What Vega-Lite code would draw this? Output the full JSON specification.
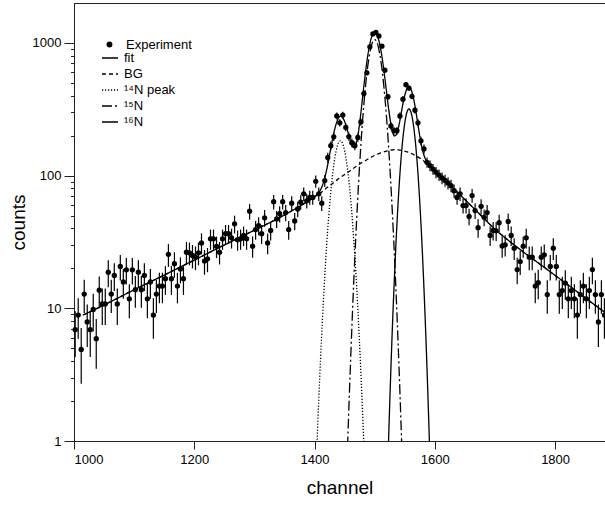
{
  "$schema": "https://vega.github.io/schema/vega-lite/v6.json",
  "width": 531,
  "height": 438,
  "autosize": {"type": "none"},
  "padding": {"left": 74, "top": 3, "right": 0, "bottom": 64},
  "background": "white",
  "config": {
    "font": "Liberation Sans",
    "view": {"stroke": "#222", "strokeWidth": 1},
    "axis": {"domainColor": "#222", "tickColor": "#222", "labelColor": "#000", "titleColor": "#000", "grid": false, "labelFont": "Liberation Sans", "titleFont": "Liberation Sans", "titleFontWeight": "normal"},
    "legend": {"labelFont": "Liberation Sans", "labelColor": "#000", "labelFontSize": 13, "padding": 0}
  },
  "datasets": {
    "pts": [
      {"ch":1002,"c":6.9,"e":2.6},{"ch":1007,"c":8.9,"e":3.0},{"ch":1012,"c":4.9,"e":2.2},{"ch":1017,"c":12.8,"e":3.6},{"ch":1022,"c":7.9,"e":2.8},
      {"ch":1027,"c":6.9,"e":2.6},{"ch":1032,"c":9.8,"e":3.1},{"ch":1037,"c":5.9,"e":2.4},{"ch":1042,"c":13.7,"e":3.7},{"ch":1047,"c":10.8,"e":3.3},
      {"ch":1052,"c":10.8,"e":3.3},{"ch":1057,"c":18.7,"e":4.3},{"ch":1062,"c":12.8,"e":3.6},{"ch":1067,"c":17.7,"e":4.2},{"ch":1072,"c":10.8,"e":3.3},
      {"ch":1077,"c":20.7,"e":4.5},{"ch":1082,"c":15.8,"e":4.0},{"ch":1087,"c":19.5,"e":4.4},{"ch":1092,"c":11.8,"e":3.4},{"ch":1097,"c":19.5,"e":4.4},
      {"ch":1102,"c":13.8,"e":3.7},{"ch":1107,"c":18.7,"e":4.3},{"ch":1112,"c":13.8,"e":3.7},{"ch":1117,"c":17.7,"e":4.2},{"ch":1122,"c":11.8,"e":3.4},
      {"ch":1127,"c":15.8,"e":4.0},{"ch":1132,"c":8.9,"e":3.0},{"ch":1137,"c":12.8,"e":3.6},{"ch":1142,"c":14.7,"e":3.8},{"ch":1147,"c":14.7,"e":3.8},
      {"ch":1152,"c":16.7,"e":4.1},{"ch":1157,"c":25.5,"e":5.0},{"ch":1162,"c":16.7,"e":4.1},{"ch":1167,"c":21.7,"e":4.7},{"ch":1172,"c":14.7,"e":3.8},
      {"ch":1177,"c":19.8,"e":4.4},{"ch":1182,"c":16.7,"e":4.1},{"ch":1187,"c":26.5,"e":5.1},{"ch":1192,"c":26.2,"e":5.1},{"ch":1197,"c":25.0,"e":5.0},
      {"ch":1202,"c":24.3,"e":4.9},{"ch":1207,"c":26.2,"e":5.1},{"ch":1212,"c":31.1,"e":5.6},{"ch":1217,"c":22.7,"e":4.8},{"ch":1222,"c":23.6,"e":4.9},
      {"ch":1227,"c":33.4,"e":5.8},{"ch":1232,"c":33.4,"e":5.8},{"ch":1237,"c":29.3,"e":5.4},{"ch":1242,"c":26.5,"e":5.1},{"ch":1247,"c":33.4,"e":5.8},
      {"ch":1252,"c":36.5,"e":6.0},{"ch":1257,"c":36.5,"e":6.0},{"ch":1262,"c":34.0,"e":5.8},{"ch":1267,"c":43.3,"e":6.6},{"ch":1272,"c":32.9,"e":5.7},
      {"ch":1277,"c":33.4,"e":5.8},{"ch":1282,"c":35.4,"e":5.9},{"ch":1287,"c":33.4,"e":5.8},{"ch":1292,"c":53.9,"e":7.3},{"ch":1297,"c":29.4,"e":5.4},
      {"ch":1302,"c":39.2,"e":6.3},{"ch":1307,"c":42.0,"e":6.5},{"ch":1312,"c":36.5,"e":6.0},{"ch":1317,"c":48.1,"e":6.9},{"ch":1322,"c":31.1,"e":5.6},
      {"ch":1327,"c":38.6,"e":6.2},{"ch":1332,"c":63.6,"e":8.0},{"ch":1337,"c":47.2,"e":6.9},{"ch":1342,"c":51.6,"e":7.2},{"ch":1347,"c":63.6,"e":8.0},
      {"ch":1352,"c":52.7,"e":7.3},{"ch":1357,"c":39.2,"e":6.3},{"ch":1362,"c":62,"e":7.9},{"ch":1367,"c":45.5,"e":6.7},{"ch":1372,"c":56.1,"e":7.5},
      {"ch":1377,"c":63.1,"e":7.9},{"ch":1382,"c":72.9,"e":8.5},{"ch":1387,"c":64.6,"e":8.0},{"ch":1392,"c":68.5,"e":8.3},{"ch":1397,"c":68.5,"e":8.3},
      {"ch":1402,"c":90.6,"e":9.5},{"ch":1407,"c":72.9,"e":8.5},{"ch":1412,"c":62,"e":7.9},{"ch":1417,"c":91.7,"e":9.6},{"ch":1422,"c":137,"e":11.7},
      {"ch":1427,"c":168,"e":13},{"ch":1432,"c":196,"e":14},{"ch":1437,"c":282,"e":16.8},{"ch":1442,"c":250,"e":15.8},{"ch":1447,"c":286,"e":16.9},
      {"ch":1452,"c":231,"e":15.2},{"ch":1457,"c":197,"e":14},{"ch":1462,"c":177,"e":13.3},{"ch":1467,"c":168,"e":13},{"ch":1472,"c":194,"e":13.9},
      {"ch":1477,"c":254,"e":15.9},{"ch":1482,"c":415,"e":20.4},{"ch":1487,"c":595,"e":24.4},{"ch":1492,"c":935,"e":30.6},{"ch":1497,"c":1170,"e":34.2},
      {"ch":1502,"c":1200,"e":34.6},{"ch":1507,"c":1130,"e":33.6},{"ch":1512,"c":945,"e":30.7},{"ch":1517,"c":623,"e":25},{"ch":1522,"c":393,"e":19.8},
      {"ch":1527,"c":237,"e":15.4},{"ch":1532,"c":218,"e":14.8},{"ch":1537,"c":218,"e":14.8},{"ch":1542,"c":282,"e":16.8},{"ch":1547,"c":377,"e":19.4},
      {"ch":1552,"c":485,"e":22},{"ch":1557,"c":457,"e":21.4},{"ch":1562,"c":396,"e":19.9},{"ch":1567,"c":311,"e":17.6},{"ch":1572,"c":250,"e":15.8},
      {"ch":1577,"c":183,"e":13.5},{"ch":1582,"c":159,"e":12.6},{"ch":1587,"c":126,"e":11.2},{"ch":1592,"c":119,"e":10.9},{"ch":1597,"c":112,"e":10.6},
      {"ch":1602,"c":106,"e":10.3},{"ch":1607,"c":101,"e":10},{"ch":1612,"c":96,"e":9.8},{"ch":1617,"c":92,"e":9.6},{"ch":1622,"c":88,"e":9.4},
      {"ch":1627,"c":84,"e":9.2},{"ch":1632,"c":77,"e":8.8},{"ch":1637,"c":68.5,"e":8.3},{"ch":1642,"c":72.9,"e":8.5},{"ch":1647,"c":59.5,"e":7.7},
      {"ch":1652,"c":59.5,"e":7.7},{"ch":1657,"c":49.2,"e":7.0},{"ch":1662,"c":70.8,"e":8.4},{"ch":1667,"c":54.5,"e":7.4},{"ch":1672,"c":40.5,"e":6.4},
      {"ch":1677,"c":58.7,"e":7.7},{"ch":1682,"c":48.5,"e":7.0},{"ch":1687,"c":52.7,"e":7.3},{"ch":1692,"c":35.4,"e":5.9},{"ch":1697,"c":38.6,"e":6.2},
      {"ch":1702,"c":38.4,"e":6.2},{"ch":1707,"c":44.2,"e":6.6},{"ch":1712,"c":29.5,"e":5.4},{"ch":1717,"c":30.1,"e":5.5},{"ch":1722,"c":45.2,"e":6.7},
      {"ch":1727,"c":35.4,"e":5.9},{"ch":1732,"c":28.4,"e":5.3},{"ch":1737,"c":19.6,"e":4.4},{"ch":1742,"c":22.5,"e":4.7},{"ch":1747,"c":29.4,"e":5.4},
      {"ch":1752,"c":34.0,"e":5.8},{"ch":1757,"c":24.3,"e":4.9},{"ch":1762,"c":24.3,"e":4.9},{"ch":1767,"c":14.7,"e":3.8},{"ch":1772,"c":15.6,"e":3.9},
      {"ch":1777,"c":24.3,"e":4.9},{"ch":1782,"c":25.3,"e":5.0},{"ch":1787,"c":12.7,"e":3.6},{"ch":1792,"c":20.7,"e":4.5},{"ch":1797,"c":28.4,"e":5.3},
      {"ch":1802,"c":20.7,"e":4.5},{"ch":1807,"c":12.7,"e":3.6},{"ch":1812,"c":13.6,"e":3.7},{"ch":1817,"c":15.5,"e":3.9},{"ch":1822,"c":11.8,"e":3.4},
      {"ch":1827,"c":13.6,"e":3.7},{"ch":1832,"c":11.8,"e":3.4},{"ch":1837,"c":8.9,"e":3.0},{"ch":1842,"c":12.7,"e":3.6},{"ch":1847,"c":14.7,"e":3.8},
      {"ch":1852,"c":11.8,"e":3.4},{"ch":1857,"c":13.6,"e":3.7},{"ch":1862,"c":19.6,"e":4.4},{"ch":1867,"c":12.7,"e":3.6},{"ch":1872,"c":7.9,"e":2.8},
      {"ch":1877,"c":12.7,"e":3.6},{"ch":1882,"c":8.9,"e":3.0}
    ],
    "cur": [
      {"s":"fit","ch":1015,"c":8.9},{"s":"fit","ch":1050,"c":10.6},{"s":"fit","ch":1100,"c":13.8},{"s":"fit","ch":1150,"c":17.8},{"s":"fit","ch":1200,"c":23.1},
      {"s":"fit","ch":1250,"c":30.0},{"s":"fit","ch":1300,"c":38.8},{"s":"fit","ch":1340,"c":47.8},{"s":"fit","ch":1366,"c":55.6},{"s":"fit","ch":1385,"c":62.5},
      {"s":"fit","ch":1401,"c":69.9},{"s":"fit","ch":1404,"c":71.9},{"s":"fit","ch":1407,"c":74.5},{"s":"fit","ch":1410,"c":78.2},{"s":"fit","ch":1413,"c":84.0},
      {"s":"fit","ch":1416,"c":92.6},{"s":"fit","ch":1419,"c":104.8},{"s":"fit","ch":1422,"c":121.6},{"s":"fit","ch":1425,"c":143.4},{"s":"fit","ch":1428,"c":169.8},
      {"s":"fit","ch":1431,"c":199},{"s":"fit","ch":1434,"c":228.1},{"s":"fit","ch":1437,"c":254},{"s":"fit","ch":1440,"c":272.4},{"s":"fit","ch":1443,"c":280},
      {"s":"fit","ch":1446,"c":276.4},{"s":"fit","ch":1449,"c":262.5},{"s":"fit","ch":1452,"c":241.5},{"s":"fit","ch":1455,"c":217.4},{"s":"fit","ch":1458,"c":194.1},
      {"s":"fit","ch":1461,"c":175.3},{"s":"fit","ch":1464,"c":164.4},{"s":"fit","ch":1467,"c":164.5},{"s":"fit","ch":1470,"c":179.2},{"s":"fit","ch":1473,"c":212.9},
      {"s":"fit","ch":1476,"c":270.6},{"s":"fit","ch":1479,"c":356.8},{"s":"fit","ch":1482,"c":473.1},{"s":"fit","ch":1485,"c":615.7},{"s":"fit","ch":1488,"c":775.6},
      {"s":"fit","ch":1491,"c":935.1},{"s":"fit","ch":1494,"c":1073},{"s":"fit","ch":1497,"c":1167.4},{"s":"fit","ch":1500,"c":1202},{"s":"fit","ch":1503,"c":1171.4},
      {"s":"fit","ch":1506,"c":1081.5},{"s":"fit","ch":1509,"c":948.1},{"s":"fit","ch":1512,"c":792.4},{"s":"fit","ch":1515,"c":636.3},{"s":"fit","ch":1518,"c":496.7},
      {"s":"fit","ch":1521,"c":383.3},{"s":"fit","ch":1524,"c":299.3},{"s":"fit","ch":1527,"c":243.4},{"s":"fit","ch":1530,"c":211.4},{"s":"fit","ch":1533,"c":199},
      {"s":"fit","ch":1536,"c":203.9},{"s":"fit","ch":1539,"c":224.8},{"s":"fit","ch":1542,"c":261.6},{"s":"fit","ch":1545,"c":310.7},{"s":"fit","ch":1548,"c":366.5},
      {"s":"fit","ch":1551,"c":418.1},{"s":"fit","ch":1554,"c":455},{"s":"fit","ch":1557,"c":467.5},{"s":"fit","ch":1560,"c":451.5},{"s":"fit","ch":1563,"c":411.1},
      {"s":"fit","ch":1566,"c":355.1},{"s":"fit","ch":1569,"c":295.3},{"s":"fit","ch":1572,"c":241.3},{"s":"fit","ch":1575,"c":198.4},{"s":"fit","ch":1578,"c":167.6},
      {"s":"fit","ch":1581,"c":147.3},{"s":"fit","ch":1584,"c":134.8},{"s":"fit","ch":1587,"c":126.5},{"s":"fit","ch":1590,"c":120.9},{"s":"fit","ch":1593,"c":116.5},
      {"s":"fit","ch":1600,"c":108},{"s":"fit","ch":1615,"c":93.5},{"s":"fit","ch":1629,"c":81.6},{"s":"fit","ch":1650,"c":66},{"s":"fit","ch":1675,"c":51},
      {"s":"fit","ch":1700,"c":39.5},{"s":"fit","ch":1725,"c":31.8},{"s":"fit","ch":1750,"c":26},{"s":"fit","ch":1775,"c":21.5},{"s":"fit","ch":1800,"c":17.7},
      {"s":"fit","ch":1825,"c":14.6},{"s":"fit","ch":1850,"c":12},{"s":"fit","ch":1883,"c":9.3},

      {"s":"BG","ch":1015,"c":8.9},{"s":"BG","ch":1050,"c":10.6},{"s":"BG","ch":1100,"c":13.8},{"s":"BG","ch":1150,"c":17.8},{"s":"BG","ch":1200,"c":23.1},
      {"s":"BG","ch":1250,"c":30.0},{"s":"BG","ch":1300,"c":38.8},{"s":"BG","ch":1340,"c":47.8},{"s":"BG","ch":1366,"c":55.6},{"s":"BG","ch":1385,"c":62.5},
      {"s":"BG","ch":1401,"c":69.5},{"s":"BG","ch":1407,"c":72.5},{"s":"BG","ch":1413,"c":76},{"s":"BG","ch":1419,"c":80},{"s":"BG","ch":1425,"c":84},
      {"s":"BG","ch":1431,"c":88},{"s":"BG","ch":1437,"c":92.5},{"s":"BG","ch":1443,"c":97},{"s":"BG","ch":1449,"c":101},{"s":"BG","ch":1455,"c":105.5},
      {"s":"BG","ch":1461,"c":110.5},{"s":"BG","ch":1467,"c":115.5},{"s":"BG","ch":1473,"c":120.5},{"s":"BG","ch":1479,"c":125.5},{"s":"BG","ch":1485,"c":130},
      {"s":"BG","ch":1491,"c":135},{"s":"BG","ch":1497,"c":140},{"s":"BG","ch":1503,"c":144},{"s":"BG","ch":1509,"c":148},{"s":"BG","ch":1515,"c":151},
      {"s":"BG","ch":1521,"c":153.5},{"s":"BG","ch":1527,"c":155.5},{"s":"BG","ch":1533,"c":157},{"s":"BG","ch":1539,"c":156.5},{"s":"BG","ch":1545,"c":155},
      {"s":"BG","ch":1551,"c":152.5},{"s":"BG","ch":1557,"c":149.5},{"s":"BG","ch":1563,"c":145.5},{"s":"BG","ch":1569,"c":140.5},{"s":"BG","ch":1575,"c":135.5},
      {"s":"BG","ch":1581,"c":129.5},{"s":"BG","ch":1587,"c":123},{"s":"BG","ch":1593,"c":116},{"s":"BG","ch":1600,"c":108},{"s":"BG","ch":1615,"c":93.5},
      {"s":"BG","ch":1629,"c":81.6},{"s":"BG","ch":1650,"c":66},{"s":"BG","ch":1675,"c":51},{"s":"BG","ch":1700,"c":39.5},{"s":"BG","ch":1725,"c":31.8},
      {"s":"BG","ch":1750,"c":26},{"s":"BG","ch":1775,"c":21.5},{"s":"BG","ch":1800,"c":17.7},{"s":"BG","ch":1825,"c":14.6},{"s":"BG","ch":1850,"c":12},{"s":"BG","ch":1883,"c":9.3},

      {"s":"¹⁴N peak","ch":1401,"c":0.40},{"s":"¹⁴N peak","ch":1404,"c":0.93},{"s":"¹⁴N peak","ch":1407,"c":2.03},{"s":"¹⁴N peak","ch":1410,"c":4.17},
      {"s":"¹⁴N peak","ch":1413,"c":8.04},{"s":"¹⁴N peak","ch":1416,"c":14.6},{"s":"¹⁴N peak","ch":1419,"c":24.8},{"s":"¹⁴N peak","ch":1422,"c":39.6},
      {"s":"¹⁴N peak","ch":1425,"c":59.4},{"s":"¹⁴N peak","ch":1428,"c":83.8},{"s":"¹⁴N peak","ch":1431,"c":111.0},{"s":"¹⁴N peak","ch":1434,"c":138.1},
      {"s":"¹⁴N peak","ch":1437,"c":161.5},{"s":"¹⁴N peak","ch":1440,"c":177.4},{"s":"¹⁴N peak","ch":1443,"c":183},{"s":"¹⁴N peak","ch":1446,"c":177.4},
      {"s":"¹⁴N peak","ch":1449,"c":161.5},{"s":"¹⁴N peak","ch":1452,"c":138.1},{"s":"¹⁴N peak","ch":1455,"c":111.0},{"s":"¹⁴N peak","ch":1458,"c":83.8},
      {"s":"¹⁴N peak","ch":1461,"c":59.4},{"s":"¹⁴N peak","ch":1464,"c":39.6},{"s":"¹⁴N peak","ch":1467,"c":24.8},{"s":"¹⁴N peak","ch":1470,"c":14.6},
      {"s":"¹⁴N peak","ch":1473,"c":8.04},{"s":"¹⁴N peak","ch":1476,"c":4.17},{"s":"¹⁴N peak","ch":1479,"c":2.03},{"s":"¹⁴N peak","ch":1482,"c":0.93},
      {"s":"¹⁴N peak","ch":1485,"c":0.40},

      {"s":"¹⁵N","ch":1452,"c":0.355},{"s":"¹⁵N","ch":1455,"c":0.94},{"s":"¹⁵N","ch":1458,"c":2.32},{"s":"¹⁵N","ch":1461,"c":5.39},{"s":"¹⁵N","ch":1464,"c":11.8},
      {"s":"¹⁵N","ch":1467,"c":24.2},{"s":"¹⁵N","ch":1470,"c":46.6},{"s":"¹⁵N","ch":1473,"c":84.4},{"s":"¹⁵N","ch":1476,"c":143.4},{"s":"¹⁵N","ch":1479,"c":229.3},
      {"s":"¹⁵N","ch":1482,"c":344.2},{"s":"¹⁵N","ch":1485,"c":485.3},{"s":"¹⁵N","ch":1488,"c":642.9},{"s":"¹⁵N","ch":1491,"c":800.1},{"s":"¹⁵N","ch":1494,"c":935.5},
      {"s":"¹⁵N","ch":1497,"c":1027.4},{"s":"¹⁵N","ch":1500,"c":1060},{"s":"¹⁵N","ch":1503,"c":1027.4},{"s":"¹⁵N","ch":1506,"c":935.5},{"s":"¹⁵N","ch":1509,"c":800.1},
      {"s":"¹⁵N","ch":1512,"c":642.9},{"s":"¹⁵N","ch":1515,"c":485.3},{"s":"¹⁵N","ch":1518,"c":344.2},{"s":"¹⁵N","ch":1521,"c":229.3},{"s":"¹⁵N","ch":1524,"c":143.4},
      {"s":"¹⁵N","ch":1527,"c":84.4},{"s":"¹⁵N","ch":1530,"c":46.6},{"s":"¹⁵N","ch":1533,"c":24.2},{"s":"¹⁵N","ch":1536,"c":11.8},{"s":"¹⁵N","ch":1539,"c":5.39},
      {"s":"¹⁵N","ch":1542,"c":2.32},{"s":"¹⁵N","ch":1545,"c":0.94},{"s":"¹⁵N","ch":1548,"c":0.355},

      {"s":"¹⁶N","ch":1521,"c":0.49},{"s":"¹⁶N","ch":1524,"c":1.37},{"s":"¹⁶N","ch":1527,"c":3.53},{"s":"¹⁶N","ch":1530,"c":8.31},{"s":"¹⁶N","ch":1533,"c":17.8},
      {"s":"¹⁶N","ch":1536,"c":35.1},{"s":"¹⁶N","ch":1539,"c":62.9},{"s":"¹⁶N","ch":1542,"c":103.3},{"s":"¹⁶N","ch":1545,"c":154.8},{"s":"¹⁶N","ch":1548,"c":212.1},
      {"s":"¹⁶N","ch":1551,"c":265.6},{"s":"¹⁶N","ch":1554,"c":304.0},{"s":"¹⁶N","ch":1557,"c":318},{"s":"¹⁶N","ch":1560,"c":304.0},{"s":"¹⁶N","ch":1563,"c":265.6},
      {"s":"¹⁶N","ch":1566,"c":212.1},{"s":"¹⁶N","ch":1569,"c":154.8},{"s":"¹⁶N","ch":1572,"c":103.3},{"s":"¹⁶N","ch":1575,"c":62.9},{"s":"¹⁶N","ch":1578,"c":35.1},
      {"s":"¹⁶N","ch":1581,"c":17.8},{"s":"¹⁶N","ch":1584,"c":8.31},{"s":"¹⁶N","ch":1587,"c":3.53},{"s":"¹⁶N","ch":1590,"c":1.37},{"s":"¹⁶N","ch":1593,"c":0.49}
    ]
  },
  "layer": [
    {
      "data": {"name": "cur"},
      "mark": {"type": "line", "clip": true, "color": "black", "strokeWidth": 1.3, "interpolate": "monotone"},
      "encoding": {
        "x": {"field": "ch", "type": "quantitative", "title": "channel", "scale": {"domain": [1000, 1883], "nice": false, "zero": false},
          "axis": {"title": "channel", "values": [1000, 1200, 1400, 1600, 1800], "format": "d", "tickSize": 8, "labelPadding": 4, "labelFontSize": 13, "titleFontSize": 19, "titlePadding": 12}},
        "y": {"field": "c", "type": "quantitative", "title": "counts", "scale": {"type": "log", "domain": [1, 2000], "nice": false},
          "axis": {"title": "counts", "values": [1,2,3,4,5,6,7,8,9,10,20,30,40,50,60,70,80,90,100,200,300,400,500,600,700,800,900,1000], "format": "d",
            "labelExpr": "indexof([1,10,100,1000], datum.value) >= 0 ? datum.label : ''",
            "tickSize": {"condition": {"test": "indexof([1,10,100,1000], datum.value) >= 0", "value": 10}, "value": 3.5},
            "labelPadding": 3, "labelFontSize": 13, "titleFontSize": 19, "titlePadding": 4}},
        "strokeDash": {"field": "s", "type": "nominal",
          "scale": {"domain": ["fit", "BG", "¹⁴N peak", "¹⁵N", "¹⁶N"], "range": [[1, 0], [4, 3], [1.2, 1.8], [10, 3, 2, 3], [1, 0]]},
          "legend": {"title": null, "orient": "none", "legendX": 27, "legendY": 46, "symbolType": "stroke", "symbolSize": 256, "symbolStrokeColor": "black", "symbolStrokeWidth": 1.3, "labelOffset": 5, "rowPadding": 0}}
      }
    },
    {
      "data": {"name": "pts"},
      "mark": {"type": "errorbar", "color": "black", "thickness": 1.2},
      "encoding": {
        "x": {"field": "ch", "type": "quantitative", "title": "channel"},
        "y": {"field": "c", "type": "quantitative", "title": "counts"},
        "yError": {"field": "e"}
      }
    },
    {
      "data": {"name": "pts"},
      "mark": {"type": "point", "filled": true, "color": "black", "size": 28, "opacity": 1},
      "encoding": {
        "x": {"field": "ch", "type": "quantitative", "title": "channel"},
        "y": {"field": "c", "type": "quantitative", "title": "counts"},
        "shape": {"datum": "Experiment", "type": "nominal", "scale": {"range": ["circle"]},
          "legend": {"title": null, "orient": "none", "legendX": 29, "legendY": 35, "symbolSize": 34, "symbolFillColor": "black", "symbolStrokeColor": "black", "labelOffset": 10}}
      }
    }
  ]
}
